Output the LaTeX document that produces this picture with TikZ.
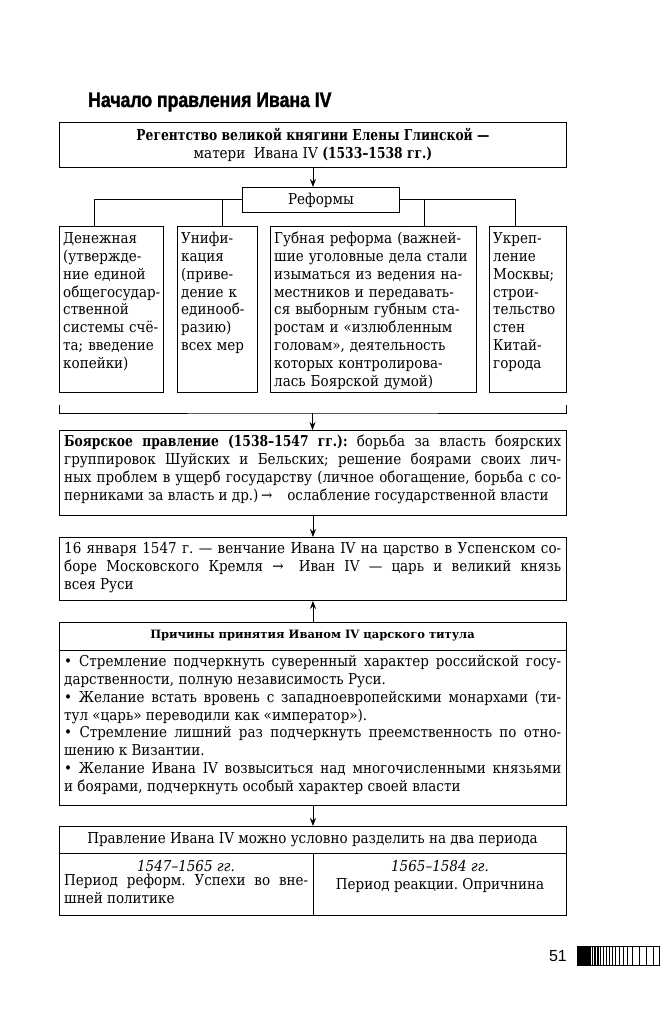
\documentclass[tikz,border=0pt]{standalone}
\usepackage{fontspec}
\setmainfont[UprightFeatures={FakeStretch=0.9},ItalicFeatures={FakeStretch=0.9},BoldFeatures={FakeStretch=0.82}]{DejaVu Serif}
\newfontfamily\hdrfont{DejaVu Serif}
\newfontfamily\titlefont[FakeStretch=0.84,FakeBold=1.6]{Liberation Sans Bold}
\newfontfamily\numfont{Liberation Sans}
\usetikzlibrary{arrows.meta}
\frenchspacing
\begin{document}
\begin{tikzpicture}[x=1pt,y=-1pt,
  frame/.style={draw, line width=0.9pt, inner sep=0pt, anchor=north west},
  link/.style={line width=0.9pt},
  arr/.style={line width=0.9pt, -{Stealth[length=8pt,width=6pt]}},
  body/.style={font=\fontsize{15}{17.8}\selectfont, inner sep=0pt},
  txt/.style={body, anchor=north west},
]
\fill[white] (0,0) rectangle (660,1024);
\useasboundingbox (0,0) rectangle (660,1024);

\node[anchor=base west, inner sep=0pt, font=\titlefont\fontsize{21}{25}\selectfont] (title) at (88,107) {Начало правления Ивана IV};

\node[frame, minimum width=507pt, minimum height=45pt, align=center, body] (reg) at (59,122) {\textbf{Регентство великой княгини Елены Глинской —}\\матери\ \ Ивана IV \textbf{(1533–1538 гг.)}};

\node[frame, minimum width=157pt, minimum height=25pt, body] (ref) at (242,187) {Реформы};
\draw[arr] (reg.south) -- (reg.south |- ref.north);

\node[frame, minimum width=104pt, minimum height=166pt] (b1) at (59,226) {};
\node[frame, minimum width=80pt, minimum height=166pt] (b2) at (177,226) {};
\node[frame, minimum width=206pt, minimum height=166pt] (b3) at (270,226) {};
\node[frame, minimum width=77pt, minimum height=166pt] (b4) at (489,226) {};

\node[txt, text width=98pt, align=left] (t1) at (63,231) {\strut Денежная\\(утвержде-\\ние единой\\общегосудар-\\ственной\\системы счё-\\та; введение\\копейки)};
\node[txt, text width=74pt, align=left] (t2) at (181,231) {\strut Унифи-\\кация\\(приве-\\дение к\\единооб-\\разию)\\всех мер};
\node[txt, text width=198pt, align=left] (t3) at (274,231) {\strut Губная реформа (важней-\\шие уголовные дела стали\\изыматься из ведения на-\\местников и передавать-\\ся выборным губным ста-\\ростам и «излюбленным\\головам», деятельность\\которых контролирова-\\лась Боярской думой)};
\node[txt, text width=72pt, align=left] (t4) at (493,231) {\strut Укреп-\\ление\\Москвы;\\строи-\\тельство\\стен\\Китай-\\города};

\coordinate (d1) at (94,226);
\coordinate (d2) at (222,226);
\coordinate (d3) at (424,226);
\coordinate (d4) at (515,226);
\draw[link] (ref.west) -| (d1);
\draw[link] (ref.east) -| (d4);
\draw[link] (d2 |- ref.west) -- (d2);
\draw[link] (d3 |- ref.east) -- (d3);

\coordinate (brL) at (59,405);
\coordinate (brR) at (566,405);
\coordinate (brM) at (312.5,413);
\draw[link] (brL) |- (brM) -| (brR);

\node[frame, minimum width=507pt, minimum height=85pt] (boy) at (59,430) {};
\draw[arr] (brM) -- (brM |- boy.north);
\node[txt, text width=497pt, align=justify] (tboy) at (64,434) {\strut\parfillskip=0pt \textbf{Боярское правление (1538–1547 гг.):} борьба за власть боярских\linebreak группировок Шуйских и Бельских; решение боярами своих лич-\linebreak ных проблем в ущерб государству (личное обогащение, борьба с со-\linebreak перниками за власть и др.)\,→\quad ослабление государственной власти};

\node[frame, minimum width=507pt, minimum height=63pt] (cor) at (59,537) {};
\draw[arr] (boy.south) -- (cor.north);
\node[txt, text width=497pt, align=justify] (tcor) at (64,541) {\strut 16 января 1547 г. — венчание Ивана IV на царство в Успенском со-\linebreak боре Московского Кремля →\quad Иван IV — царь и великий князь\linebreak всея Руси};

\node[frame, minimum width=507pt, minimum height=183pt] (why) at (59,622) {};
\draw[arr] (why.north) -- (cor.south);
\node[inner sep=0pt, font=\hdrfont\bfseries\fontsize{11.5}{14}\selectfont] (whyh) at (312.5,636) {Причины принятия Иваном IV царского титула};
\coordinate (sep1) at (59,650);
\draw[link] (sep1) -- (sep1 -| why.east);
\node[txt, text width=497pt, align=justify] (twhy) at (64,654) {\strut • Стремление подчеркнуть суверенный характер российской госу-\linebreak дарственности, полную независимость Руси.\par
• Желание встать вровень с западноевропейскими монархами (ти-\linebreak тул «царь» переводили как «император»).\par
• Стремление лишний раз подчеркнуть преемственность по отно-\linebreak шению к Византии.\par
• Желание Ивана IV возвыситься над многочисленными князьями\linebreak и боярами, подчеркнуть особый характер своей власти};

\node[frame, minimum width=507pt, minimum height=89pt] (tab) at (59,826) {};
\draw[arr] (why.south) -- (tab.north);
\node[body] (tabh) at (312.5,840) {Правление Ивана IV можно условно разделить на два периода};
\coordinate (sep2) at (59,853);
\draw[link] (sep2) -- (sep2 -| tab.east);
\draw[link] (tab.south |- sep2) -- (tab.south);
\node[body, font=\fontsize{15}{17.8}\selectfont\itshape] (p1d) at (186,866) {1547–1565 гг.};
\node[txt, text width=244pt, align=justify] (p1t) at (64,873) {\strut Период реформ. Успехи во вне-\linebreak шней политике};
\node[body, font=\fontsize{15}{17.8}\selectfont\itshape] (p2d) at (440,866) {1565–1584 гг.};
\node[body] (p2t) at (440,885) {Период реакции. Опричнина};

\node[anchor=base east, inner sep=0pt, font=\numfont\fontsize{16}{18}\selectfont] (pg) at (567,961) {51};
\fill (577,946) rectangle (591,965);
\foreach \xx in {592.5,594,595.5,597,598.5,600,603,606,609,612,615,619,623,627,632,639,646,653}
  \draw[line width=1pt] (\xx,946) -- (\xx,965);
\draw[line width=0.9pt] (577,946) rectangle (659,965);
\end{tikzpicture}
\end{document}
